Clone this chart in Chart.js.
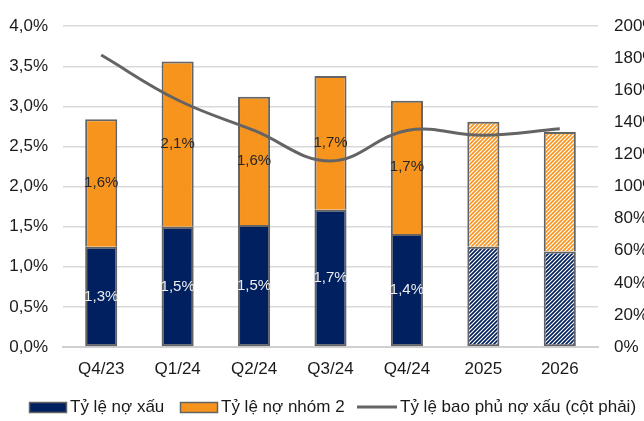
<!DOCTYPE html>
<html>
<head>
<meta charset="utf-8">
<script src="https://cdn.jsdelivr.net/npm/chart.js@4.4.1/dist/chart.umd.min.js"></script>
<style>
  html, body { margin: 0; padding: 0; background: #fff; overflow: hidden; }
  #wrap { position: absolute; left: 0; top: 0; width: 670px; height: 421px; }
</style>
</head>
<body>
<div id="wrap"><canvas id="chart" width="670" height="421"></canvas></div>
<script>
// Periods on the category axis
const categories = ['Q4/23', 'Q1/24', 'Q2/24', 'Q3/24', 'Q4/24', '2025', '2026'];
// Bad-debt ratio (%), left axis
const nplRatio = [1.25, 1.5, 1.52, 1.71, 1.41, 1.25, 1.19];
// Group-2 debt ratio (%), left axis
const group2Ratio = [1.59, 2.06, 1.6, 1.67, 1.66, 1.56, 1.49];
// Bad-debt coverage ratio (%), right axis
const coverageRatio = [182, 154, 135, 116, 135, 132, 136];
// Forecast periods are hatched and carry no value labels
const isForecast = [false, false, false, false, false, true, true];
// Axis ranges
const leftTicks = { min: 0, max: 4, step: 0.5 };
const rightTicks = { min: 0, max: 200, step: 20 };
// Legend texts
const seriesNames = ['Tỷ lệ nợ xấu', 'Tỷ lệ nợ nhóm 2', 'Tỷ lệ bao phủ nợ xấu (cột phải)'];

const NAVY = '#002060';
const ORANGE = '#F7941D';
const EDGE = '#646464';
const FONT = '"Liberation Sans", Arial, sans-serif';

function hatch(color) {
  const n = 4;
  const c = document.createElement('canvas');
  c.width = n; c.height = n;
  const g = c.getContext('2d');
  g.fillStyle = color;
  g.fillRect(0, 0, n, n);
  g.strokeStyle = '#ffffff';
  g.lineWidth = 1.2;
  g.beginPath();
  g.moveTo(-1, n + 1); g.lineTo(n + 1, -1);
  g.moveTo(-1, 1); g.lineTo(1, -1);
  g.moveTo(n - 1, n + 1); g.lineTo(n + 1, n - 1);
  g.stroke();
  return document.getElementById('chart').getContext('2d').createPattern(c, 'repeat');
}
const navyHatch = hatch(NAVY);
const orangeHatch = hatch(ORANGE);

const fmt = v => v.toFixed(1).replace('.', ',') + '%';

const valueLabels = {
  id: 'valueLabels',
  afterDatasetsDraw(chart) {
    const ctx = chart.ctx;
    ctx.save();
    ctx.font = '15px ' + FONT;
    ctx.textAlign = 'center';
    ctx.textBaseline = 'middle';
    [0, 1].forEach(di => {
      const meta = chart.getDatasetMeta(di);
      const data = chart.data.datasets[di].data;
      meta.data.forEach((bar, i) => {
        if (isForecast[i]) return;
        const y = (bar.y + bar.base) / 2;
        ctx.fillStyle = di === 0 ? '#eeeeee' : '#262626';
        ctx.fillText(fmt(data[i]), bar.x, y);
      });
    });
    ctx.restore();
  }
};

const bottomLegend = {
  id: 'bottomLegend',
  afterDraw(chart) {
    const ctx = chart.ctx;
    const cy = 407;
    ctx.save();
    ctx.font = '17px ' + FONT;
    ctx.textBaseline = 'middle';
    ctx.strokeStyle = EDGE; ctx.lineWidth = 1.5;
    // navy box
    ctx.fillStyle = NAVY;
    ctx.fillRect(29, cy - 5, 38, 11);
    ctx.strokeRect(29.5, cy - 4.5, 37, 10);
    ctx.fillStyle = '#1a1a1a';
    ctx.fillText(seriesNames[0], 70, cy);
    // orange box
    ctx.fillStyle = ORANGE;
    ctx.fillRect(180, cy - 5, 38, 11);
    ctx.strokeRect(180.5, cy - 4.5, 37, 10);
    ctx.fillStyle = '#1a1a1a';
    ctx.fillText(seriesNames[1], 221, cy);
    // line
    ctx.strokeStyle = EDGE; ctx.lineWidth = 3;
    ctx.beginPath(); ctx.moveTo(357, cy); ctx.lineTo(397, cy); ctx.stroke();
    ctx.fillText(seriesNames[2], 400, cy);
    ctx.restore();
  }
};

new Chart(document.getElementById('chart'), {
  data: {
    labels: categories,
    datasets: [
      {
        type: 'bar', label: seriesNames[0], data: nplRatio, yAxisID: 'yL', order: 1,
        backgroundColor: isForecast.map(f => f ? navyHatch : NAVY),
        borderColor: EDGE, borderWidth: 2, borderSkipped: false,
        barPercentage: 0.84, categoryPercentage: 0.5
      },
      {
        type: 'bar', label: seriesNames[1], data: group2Ratio, yAxisID: 'yL', order: 1,
        backgroundColor: isForecast.map(f => f ? orangeHatch : ORANGE),
        borderColor: EDGE, borderWidth: 2, borderSkipped: 'start',
        barPercentage: 0.84, categoryPercentage: 0.5
      },
      {
        type: 'line', label: seriesNames[2], data: coverageRatio, yAxisID: 'yR', order: 0,
        borderColor: EDGE, borderWidth: 3, pointRadius: 0, tension: 0.4, fill: false
      }
    ]
  },
  options: {
    responsive: false,
    animation: false,
    layout: { padding: { left: 0, right: 0, top: 20, bottom: 40 } },
    plugins: { legend: { display: false }, tooltip: { enabled: false } },
    scales: {
      x: {
        stacked: true,
        grid: { display: false, drawTicks: false },
        border: { color: '#d0d0d0', width: 2 },
        ticks: { color: '#1a1a1a', font: { family: FONT, size: 17 }, padding: 12, maxRotation: 0 },
        afterFit(s) { s.height = 34; }
      },
      yL: {
        position: 'left', stacked: true,
        min: leftTicks.min, max: leftTicks.max,
        grid: { color: '#d9d9d9', lineWidth: 1.5, drawTicks: false },
        border: { display: false },
        ticks: { stepSize: leftTicks.step, color: '#1a1a1a', font: { family: FONT, size: 17 }, padding: 15,
                 callback: v => fmt(v) },
        afterFit(s) { s.width = 63; }
      },
      yR: {
        position: 'right',
        min: rightTicks.min, max: rightTicks.max,
        grid: { display: false, drawTicks: false },
        border: { display: false },
        ticks: { stepSize: rightTicks.step, color: '#1a1a1a', font: { family: FONT, size: 17 }, padding: 16,
                 callback: v => v + '%' },
        afterFit(s) { s.width = 72; }
      }
    }
  },
  plugins: [valueLabels, bottomLegend]
});
</script>
</body>
</html>
